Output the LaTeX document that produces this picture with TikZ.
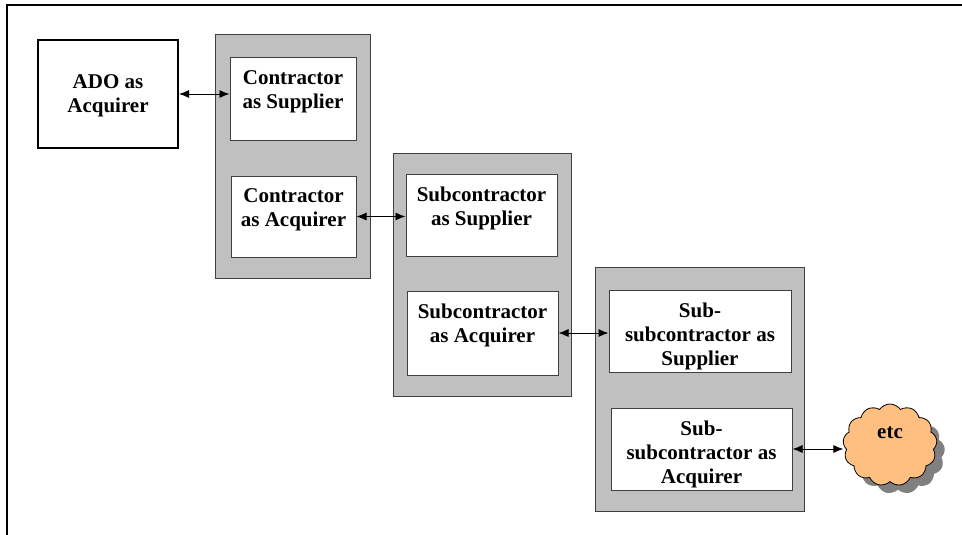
\documentclass[tikz,border=0pt]{standalone}
\usepackage{fontspec}
\setmainfont{Liberation Serif}
\usetikzlibrary{arrows.meta,shapes.symbols,shadows}
\definecolor{panelgray}{HTML}{C0C0C0}
\definecolor{edgegray}{HTML}{404040}
\definecolor{cloudfill}{HTML}{FFBF80}
\definecolor{shadowgray}{HTML}{808080}
\begin{document}
\begin{tikzpicture}[x=1pt,y=-1pt,
  panel/.style={draw=edgegray,line width=1pt,fill=panelgray,inner sep=0pt},
  wbox/.style={draw=edgegray,line width=1pt,fill=white,inner sep=0pt},
  mainbox/.style={draw=black,line width=2pt,fill=white,inner sep=0pt},
  lbl/.style={anchor=north,inner sep=0pt,align=center,
    font=\fontsize{21}{24}\selectfont\bfseries},
  link/.style={{Latex[length=10pt,width=8pt]}-{Latex[length=10pt,width=8pt]},line width=0.9pt},
  frameline/.style={line width=2.5pt}]
  \useasboundingbox (0,0) rectangle (962,535);
  % outer frame (top and left edges only)
  \coordinate (fTL) at (7,5);
  \coordinate (fTR) at (962,5);
  \coordinate (fBL) at (7,535);
  \draw[frameline] (fTR) -- (fTL) -- (fBL);

  % acquirer at the head of the chain
  \node[mainbox,minimum width=140,minimum height=108] (ado) at (108,94) {};
  \node[lbl] (adoT) at ([yshift=-35]ado.north) {ADO as\\Acquirer};

  % contractor tier
  \node[panel,minimum width=155,minimum height=243] (g1) at (292.5,156.5) {};
  \node[wbox,minimum width=126,minimum height=82] (cs) at (293,99) {};
  \node[lbl] (csT) at ([yshift=-13]cs.north) {Contractor\\as Supplier};
  \node[wbox,minimum width=125,minimum height=81] (ca) at (293.5,216.5) {};
  \node[lbl] (caT) at ([yshift=-13]ca.north) {Contractor\\as Acquirer};

  % subcontractor tier
  \node[panel,minimum width=178,minimum height=243] (g2) at (482,274.5) {};
  \node[wbox,minimum width=151,minimum height=82] (ss) at (481.5,215) {};
  \node[lbl] (ssT) at ([yshift=-13]ss.north) {Subcontractor\\as Supplier};
  \node[wbox,minimum width=151,minimum height=84] (sa) at (482.5,333) {};
  \node[lbl] (saT) at ([yshift=-13]sa.north) {Subcontractor\\as Acquirer};

  % sub-subcontractor tier
  \node[panel,minimum width=209,minimum height=244] (g3) at (699.5,389) {};
  \node[wbox,minimum width=182,minimum height=82] (sss) at (700,331) {};
  \node[lbl] (sssT) at ([yshift=-13]sss.north) {Sub-\\subcontractor as\\Supplier};
  \node[wbox,minimum width=181,minimum height=82] (ssa) at (701.5,449) {};
  \node[lbl] (ssaT) at ([yshift=-13]ssa.north) {Sub-\\subcontractor as\\Acquirer};

  % continuation cloud
  \node[cloud,cloud puffs=13,cloud puff arc=110,aspect=1.15,draw=black,line width=0.8pt,
    fill=cloudfill,minimum width=94,minimum height=82,inner sep=0pt,
    drop shadow={shadow xshift=8pt,shadow yshift=-8pt,fill=shadowgray,opacity=1}] (etc) at (890,445) {};
  \node[anchor=base,inner sep=0pt,font=\fontsize{21}{24}\selectfont\bfseries] (etcT) at (890,438) {etc};

  % supplier/acquirer links
  \draw[link] (ado.east) -- (ado.east -| cs.west);
  \draw[link] (ca.east) -- (ca.east -| ss.west);
  \draw[link] (sa.east) -- (sa.east -| sss.west);
  \draw[link] (ssa.east) -- (etc.west |- ssa.east);
\end{tikzpicture}
\end{document}
